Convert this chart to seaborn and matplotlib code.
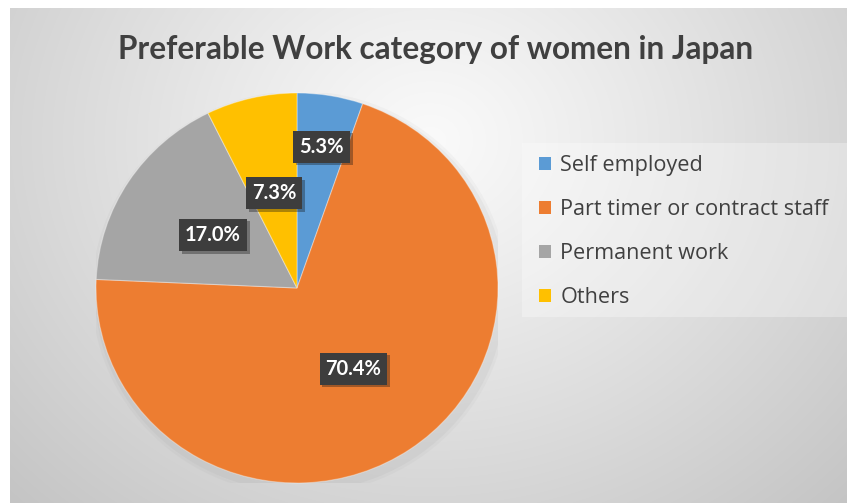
import numpy as np
import matplotlib
matplotlib.use("Agg")
import matplotlib.pyplot as plt
import matplotlib.patheffects as pe
from matplotlib.patches import Rectangle, Ellipse
import seaborn as sns

# ---- data ----
categories = ["Self employed", "Part timer or contract staff", "Permanent work", "Others"]
shares = [5.3, 70.4, 17.0, 7.3]
pct_labels = ["5.3%", "70.4%", "17.0%", "7.3%"]
title_text = "Preferable Work category of women in Japan"

sns.set_style("white")
colors = sns.color_palette(["#5B9BD5", "#ED7D31", "#A5A5A5", "#FFC000"])
plt.rcParams["font.family"] = ["Lato", "DejaVu Sans"]

W, H = 847, 503
fig = plt.figure(figsize=(W / 100, H / 100), dpi=100)
fig.patch.set_facecolor("white")

def fx(px):
    return px / W

def fy(py):
    return 1 - py / H

# ---- gradient background ----
bg_left, bg_top = 10, 8
bg = fig.add_axes([fx(bg_left), 0, 1 - fx(bg_left), fy(bg_top)])
bw, bh = W - bg_left, H - bg_top
yy, xx = np.mgrid[0:bh, 0:bw]
cx, cy = 430 - bg_left, 140 - bg_top
d = np.sqrt(((xx - cx) / 1.15) ** 2 + (yy - cy) ** 2)
d = d / d.max()
val = 250 - (250 - 196) * np.clip(d, 0, 1) ** 1.1
img = np.dstack([val, val, val]) / 255.0
bg.imshow(img, aspect="auto", interpolation="bilinear", zorder=0)
bg.set_axis_off()

# legend panel (inside background axes so it stays behind the legend)
bg.add_patch(Rectangle((fx(522), fy(317)), 1 - fx(522), fy(143) - fy(317),
                       transform=fig.transFigure, facecolor="white", alpha=0.3,
                       edgecolor="none", zorder=2))

# ---- pie ----
cxp, cyp, rx, ry = 297, 288, 201, 195
ax = fig.add_axes([fx(cxp - rx), fy(cyp + ry), 2 * rx / W, 2 * ry / H])
ax.set_facecolor("none")

# soft shadow
for k, a in zip([1.035, 1.02], [0.05, 0.07]):
    ax.add_patch(Ellipse((0.015, -0.025), 2 * k, 2 * k, facecolor="#808080", alpha=a,
                         edgecolor="none", zorder=0))

wedges, _ = ax.pie(shares, colors=colors, startangle=90, counterclock=False,
                   radius=1.0, wedgeprops=dict(edgecolor=(1, 1, 1, 0.35), linewidth=0.8))
ax.set_aspect("auto")
ax.set_xlim(-1, 1)
ax.set_ylim(-1, 1)
ax.set_axis_off()

label_radius = [0.735, 0.5, 0.5, 0.5]
for w, lab, r in zip(wedges, pct_labels, label_radius):
    mid = np.deg2rad((w.theta1 + w.theta2) / 2)
    t = ax.text(r * np.cos(mid), r * np.sin(mid), lab, ha="center", va="center",
                color="white", fontsize=14.5, fontweight="bold",
                bbox=dict(boxstyle="square,pad=0.3", fc="#3d3d3d", ec="none"), zorder=5)
    t.get_bbox_patch().set_path_effects([pe.SimplePatchShadow(offset=(2, -2), alpha=0.35),
                                         pe.Normal()])

# ---- legend ----
leg = ax.legend(wedges, categories, loc="center left",
                bbox_to_anchor=(fx(539), fy(231.5)), bbox_transform=fig.transFigure,
                frameon=False, prop={"family": ["Open Sans", "DejaVu Sans"], "size": 15.6},
                handlelength=0.56, handleheight=0.56,
                handletextpad=0.42, labelspacing=1.06, borderaxespad=0, borderpad=0)
for txt in leg.get_texts():
    txt.set_color("#404040")
for h in leg.legend_handles:
    h.set_edgecolor("none")

# ---- title ----
fig.text(fx(436), fy(49), title_text, ha="center", va="center",
         fontsize=22.7, fontweight="bold", color="#404040")

fig.savefig("out.png", dpi=100, facecolor=fig.get_facecolor())
